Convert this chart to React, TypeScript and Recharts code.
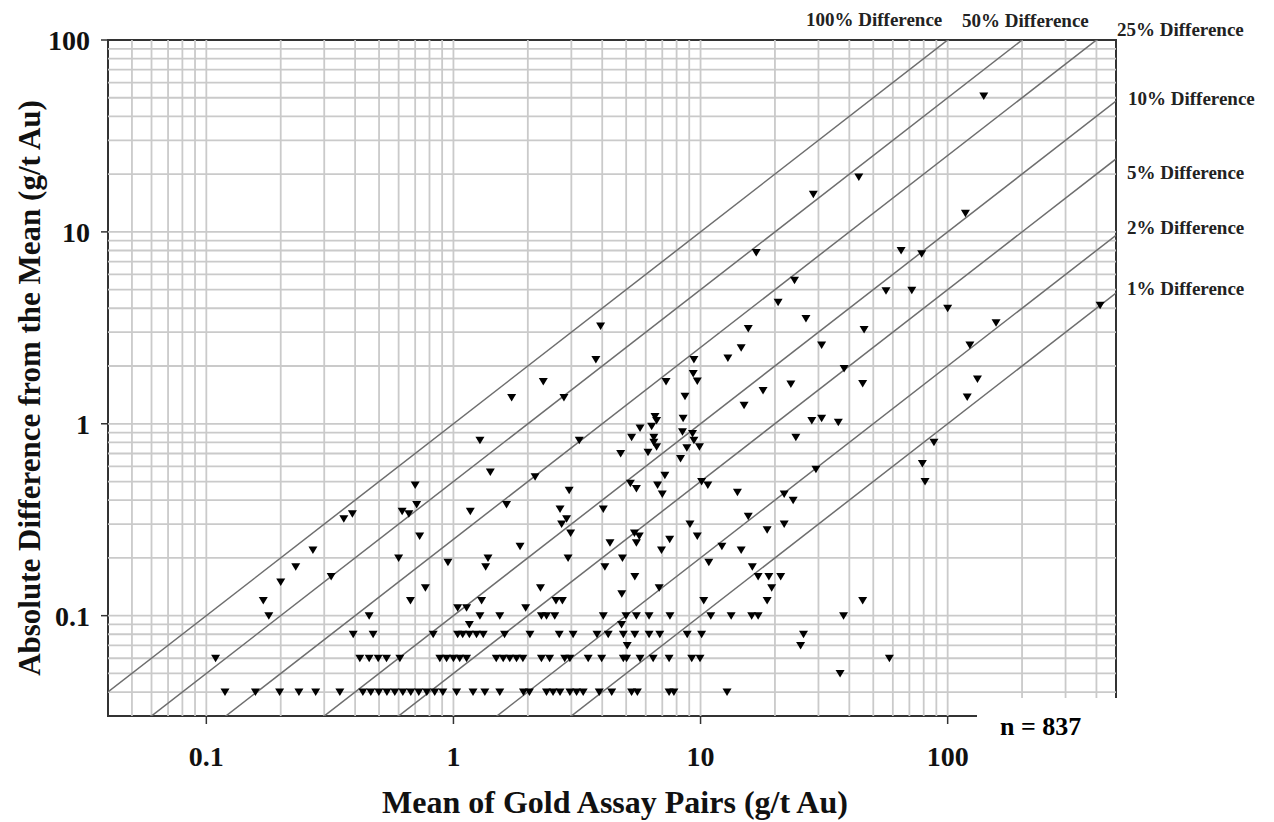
import React from "react";
import { ScatterChart, Scatter, XAxis, YAxis, ReferenceLine, ReferenceArea } from "recharts";

const W = 1274;
const H = 822;
const FONT = "'Liberation Serif', 'Times New Roman', serif";

// axis ticks and grid values
const xTicks = [0.1, 1, 10, 100];
const yTicks = [0.1, 1, 10, 100];
const xGrid = [
  0.05, 0.06, 0.07, 0.08, 0.09, 0.1, 0.2, 0.3, 0.4, 0.5, 0.6, 0.7, 0.8, 0.9, 1,
  2, 3, 4, 5, 6, 7, 8, 9, 10, 20, 30, 40, 50, 60, 70, 80, 90, 100, 200, 300, 400,
];
const yGrid = [
  0.04, 0.05, 0.06, 0.07, 0.08, 0.09, 0.1, 0.2, 0.3, 0.4, 0.5, 0.6, 0.7, 0.8, 0.9, 1,
  2, 3, 4, 5, 6, 7, 8, 9, 10, 20, 30, 40, 50, 60, 70, 80, 90,
];

// percent difference lines (abs diff = ratio * mean)
const diffRatios = [1, 0.5, 0.25, 0.1, 0.05, 0.02, 0.01];
const diffLabels = [
  "100% Difference",
  "50% Difference",
  "25% Difference",
  "10% Difference",
  "5% Difference",
  "2% Difference",
  "1% Difference",
];

// assay pairs sitting on the quantised difference rows (mean values)
const row004 = [
  0.119, 0.158, 0.198, 0.237, 0.277, 0.347, 0.43, 0.463, 0.499, 0.538, 0.579, 0.624,
  0.672, 0.724, 0.78, 0.84, 0.906, 1.03, 1.2, 1.34, 1.54, 1.92, 2.03, 2.38, 2.53, 2.7,
  2.96, 3.15, 3.35, 3.89, 4.37, 5.26, 5.55, 7.46, 7.8, 12.8,
];
const row006 = [
  0.109, 0.418, 0.456, 0.496, 0.536, 0.607, 0.881, 0.938, 1.0, 1.06, 1.13, 1.49, 1.59,
  1.69, 1.8, 1.91, 2.27, 2.45, 2.82, 2.96, 3.51, 3.98, 4.87, 5.02, 5.69, 6.43, 7.46,
  9.21, 9.95, 58.1,
];
const row008 = [
  0.393, 0.473, 0.828, 1.04, 1.09, 1.16, 1.24, 1.32, 1.61, 2.04, 2.68, 3.05, 3.81, 4.23,
  4.87, 5.42, 6.19, 6.84, 8.83, 10.1, 26.1,
];
const row010 = [
  0.179, 0.456, 1.28, 1.54, 2.27, 2.38, 2.57, 4.04, 4.99, 5.5, 6.19, 7.52, 11.0, 13.3,
  16.1, 17.1, 37.9,
];

// other pairs [mean, abs diff]
const lowerPairs: [number, number][] = [
  [0.27, 0.22], [0.23, 0.18], [0.2, 0.15], [0.17, 0.12], [0.32, 0.16], [0.36, 0.32],
  [0.39, 0.34], [0.7, 0.48], [0.62, 0.35], [0.66, 0.34], [0.71, 0.38], [0.73, 0.26],
  [0.6, 0.2], [1.17, 0.35], [1.64, 0.38], [1.86, 0.23], [0.95, 0.19], [1.38, 0.2],
  [1.35, 0.18], [0.77, 0.14], [0.67, 0.12], [1.04, 0.11], [1.13, 0.11], [1.3, 0.12],
  [1.96, 0.11], [1.16, 0.09], [2.94, 0.45], [5.2, 0.49], [5.5, 0.46], [6.7, 0.48],
  [7.0, 0.43], [10.1, 0.5], [10.7, 0.48], [2.7, 0.36], [2.87, 0.32], [2.74, 0.3],
  [2.98, 0.27], [4.04, 0.36], [2.91, 0.2], [5.4, 0.27], [5.65, 0.26], [5.5, 0.24],
  [4.3, 0.24], [7.5, 0.25], [6.95, 0.22], [9.06, 0.3], [9.7, 0.26], [10.8, 0.19],
  [4.83, 0.2], [4.1, 0.18], [5.42, 0.16], [2.25, 0.14], [4.8, 0.13], [6.8, 0.14],
  [10.3, 0.12], [2.6, 0.12], [2.76, 0.12], [4.79, 0.09], [5.05, 0.07], [14.1, 0.44],
  [21.8, 0.43], [23.7, 0.4], [15.6, 0.33], [18.6, 0.28], [21.8, 0.3], [12.2, 0.23],
  [14.6, 0.22], [16.2, 0.18], [17.1, 0.16], [18.9, 0.16], [21.1, 0.16], [19.4, 0.14],
  [18.6, 0.12], [45.3, 0.12], [25.4, 0.07], [36.7, 0.05], [81, 0.5], [79, 0.62], [88, 0.8],
];
const upperPairs: [number, number][] = [
  [78.5, 7.7], [100, 4.0], [157, 3.36], [123, 2.57], [132, 1.71], [120, 1.38], [414, 4.15],
  [20.6, 4.3], [26.7, 3.54], [15.6, 3.14], [14.6, 2.49], [45.9, 3.1], [30.9, 2.57],
  [38.1, 1.94], [45.3, 1.62], [23.2, 1.61], [17.9, 1.49], [15, 1.25], [28.2, 1.04],
  [30.9, 1.07], [36.1, 1.02], [24.3, 0.85], [29.3, 0.58], [12.9, 2.2], [140, 51],
  [43.7, 19.3], [28.6, 15.7], [118, 12.5], [64.8, 8.0], [56.3, 4.93], [71.6, 4.97],
  [24, 5.6], [16.8, 7.8], [3.94, 3.23], [3.77, 2.16], [2.31, 1.66], [2.8, 1.37],
  [3.23, 0.82], [9.4, 2.16], [9.34, 1.83], [9.7, 1.67], [7.25, 1.66], [8.65, 1.39],
  [6.54, 1.09], [6.64, 1.04], [6.34, 0.97], [5.69, 0.95], [8.5, 1.07], [8.45, 0.91],
  [5.26, 0.85], [6.47, 0.85], [6.47, 0.8], [6.64, 0.76], [6.13, 0.71], [9.28, 0.89],
  [9.4, 0.82], [8.8, 0.75], [9.9, 0.76], [4.75, 0.7], [8.3, 0.66], [7.17, 0.54],
  [1.72, 1.37], [1.28, 0.82], [1.41, 0.56], [2.14, 0.53],
];

const points = [
  ...row004.map((x) => ({ x, y: 0.04 })),
  ...row006.map((x) => ({ x, y: 0.06 })),
  ...row008.map((x) => ({ x, y: 0.08 })),
  ...row010.map((x) => ({ x, y: 0.1 })),
  ...lowerPairs.map(([x, y]) => ({ x, y })),
  ...upperPairs.map(([x, y]) => ({ x, y })),
];

const X_MIN = 0.04;
const X_MAX = 480;

// label placement (left x, baseline y) for the percent lines
const labelSpots = [
  [806, 26],
  [962, 27],
  [1117, 36],
  [1128, 105],
  [1127, 179],
  [1127, 234],
  [1127, 295],
];

const DownTriangle = (props: any) => {
  const { cx, cy } = props;
  if (cx == null || cy == null) return null;
  return <path d={`M${cx - 4.5},${cy - 3.5}L${cx + 4.5},${cy - 3.5}L${cx},${cy + 4}Z`} fill="#000" />;
};

const tickStyle = { fontFamily: FONT, fontSize: 28, fontWeight: 700, fill: "#111" };

export default function App() {
  return (
    <div style={{ position: "absolute", left: 0, top: 0, width: W, height: H, background: "#fff" }}>
      <ScatterChart width={W} height={H} margin={{ top: 40, right: 158, bottom: 46, left: 8 }}>
        <XAxis
          type="number"
          dataKey="x"
          scale="log"
          domain={[X_MIN, X_MAX]}
          allowDataOverflow
          ticks={xTicks}
          tickFormatter={(v) => String(v)}
          axisLine={false}
          tickLine={{ stroke: "#333", strokeWidth: 1.5 }}
          tickSize={8}
          tickMargin={22}
          height={60}
          tick={tickStyle}
        />
        <YAxis
          type="number"
          dataKey="y"
          scale="log"
          domain={[0.03, 100]}
          allowDataOverflow
          ticks={yTicks}
          tickFormatter={(v) => String(v)}
          axisLine={false}
          tickLine={{ stroke: "#333", strokeWidth: 1.5 }}
          tickSize={7}
          tickMargin={11}
          width={100}
          tick={tickStyle}
        />
        {xGrid.map((v) => (
          <ReferenceLine key={"gx" + v} x={v} stroke="#cacaca" strokeWidth={1.8} />
        ))}
        {yGrid.map((v) => (
          <ReferenceLine key={"gy" + v} y={v} stroke="#cacaca" strokeWidth={1.8} />
        ))}
        {diffRatios.map((r) => (
          <ReferenceLine
            key={"d" + r}
            segment={[
              { x: X_MIN, y: X_MIN * r },
              { x: X_MAX, y: X_MAX * r },
            ]}
            ifOverflow="hidden"
            stroke="#6e6e6e"
            strokeWidth={1.5}
          />
        ))}
        <ReferenceArea x1={X_MIN} x2={X_MAX} y1={0.03} y2={100} fill="none" stroke="#333" strokeWidth={2} />
        <Scatter data={points} shape={<DownTriangle />} isAnimationActive={false} />
      </ScatterChart>
      <svg
        width={W}
        height={H}
        style={{ position: "absolute", left: 0, top: 0, pointerEvents: "none" }}
        fontFamily={FONT}
        fontWeight={700}
      >
        <rect x={977} y={698} width={170} height={25} fill="#fff" />
        {diffLabels.map((t, i) => (
          <text key={t} x={labelSpots[i][0]} y={labelSpots[i][1]} fontSize={19} fill="#222">
            {t}
          </text>
        ))}
        <text x={1000} y={735} fontSize={26} fill="#000">
          n = 837
        </text>
        <text x={615} y={813} fontSize={32} textAnchor="middle" fill="#111">
          Mean of Gold Assay Pairs (g/t Au)
        </text>
        <text x={40} y={388} fontSize={31} textAnchor="middle" fill="#111" transform="rotate(-90, 40, 388)">
          Absolute Difference from the Mean (g/t Au)
        </text>
      </svg>
    </div>
  );
}
